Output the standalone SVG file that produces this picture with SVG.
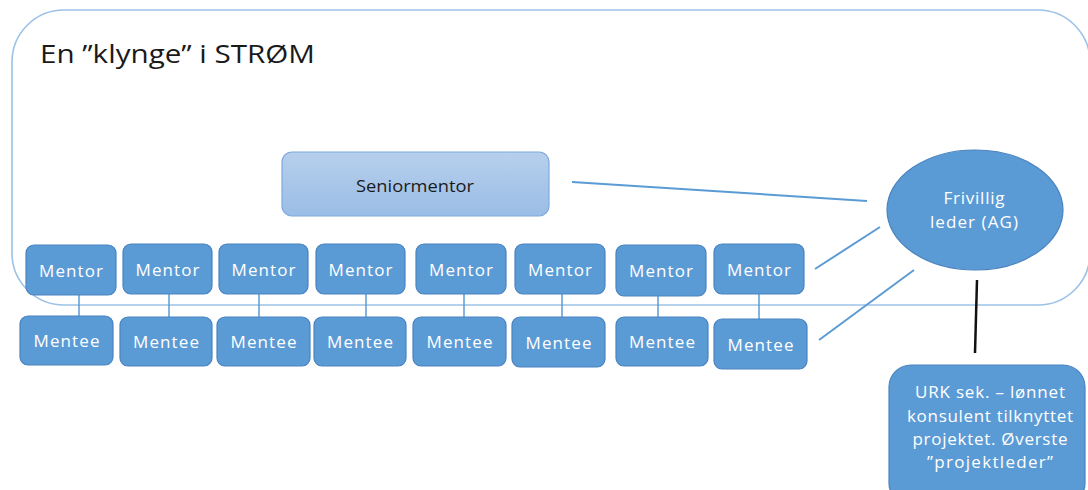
<svg xmlns="http://www.w3.org/2000/svg" width="1088" height="490" viewBox="0 0 1088 490">
<defs>
<linearGradient id="sg" x1="0" y1="0" x2="0" y2="1">
<stop offset="0" stop-color="#b7cfec"/>
<stop offset="1" stop-color="#9abde6"/>
</linearGradient>
</defs>
<style>
text{font-family:"Open Sans","Liberation Sans",sans-serif;}
.box{fill:#5b9bd5;stroke:#4a83bf;stroke-width:1.2;}
.wt{fill:#ffffff;font-size:17px;text-anchor:middle;}
.ln{stroke:#5b9bd5;stroke-width:2;fill:none;}
.vl{stroke:#5b9bd5;stroke-width:1.5;fill:none;}
</style>
<rect width="1088" height="490" fill="#ffffff"/>
<g id="cluster">
<rect x="12" y="10" width="1078" height="295" rx="52" ry="52" fill="none" stroke="#9cc2e8" stroke-width="1.6"/>
<text x="40" y="63" font-size="26" fill="#1a1a1a" textLength="275" lengthAdjust="spacingAndGlyphs">En ”klynge” i STRØM</text>
</g>
<g id="connectors">
<line class="vl" x1="79" y1="295" x2="79" y2="316"/>
<line class="vl" x1="169" y1="294" x2="169" y2="317"/>
<line class="vl" x1="259" y1="294" x2="259" y2="317"/>
<line class="vl" x1="366" y1="294" x2="366" y2="317"/>
<line class="vl" x1="464" y1="294" x2="464" y2="317"/>
<line class="vl" x1="562" y1="294" x2="562" y2="317"/>
<line class="vl" x1="658" y1="296" x2="658" y2="317"/>
<line class="vl" x1="759" y1="294" x2="759" y2="319"/>
<line class="ln" x1="572" y1="182" x2="867" y2="201"/>
<line class="ln" x1="815" y1="269" x2="880" y2="227"/>
<line class="ln" x1="819" y1="340" x2="914" y2="270"/>
<line x1="977" y1="280" x2="975" y2="353" stroke="#111111" stroke-width="2.5"/>
</g>
<g id="seniormentor">
<rect x="282" y="152" width="267" height="64" rx="10" fill="url(#sg)" stroke="#7ea9dc" stroke-width="1.2"/>
<text x="415" y="192" font-size="16" fill="#1a1a1a" text-anchor="middle" textLength="118" lengthAdjust="spacingAndGlyphs">Seniormentor</text>
</g>
<g id="mentor1"><rect class="box" x="26" y="245" width="90" height="50" rx="8"/><text class="wt" x="71" y="277" textLength="64">Mentor</text></g>
<g id="mentor2"><rect class="box" x="123" y="244" width="89" height="50" rx="8"/><text class="wt" x="167.5" y="276" textLength="64">Mentor</text></g>
<g id="mentor3"><rect class="box" x="219" y="244" width="89" height="50" rx="8"/><text class="wt" x="263.5" y="276" textLength="64">Mentor</text></g>
<g id="mentor4"><rect class="box" x="316" y="244" width="89" height="50" rx="8"/><text class="wt" x="360.5" y="276" textLength="64">Mentor</text></g>
<g id="mentor5"><rect class="box" x="416" y="244" width="90" height="50" rx="8"/><text class="wt" x="461" y="276" textLength="64">Mentor</text></g>
<g id="mentor6"><rect class="box" x="515" y="244" width="90" height="50" rx="8"/><text class="wt" x="560" y="276" textLength="64">Mentor</text></g>
<g id="mentor7"><rect class="box" x="616" y="245" width="90" height="51" rx="8"/><text class="wt" x="661" y="277" textLength="64">Mentor</text></g>
<g id="mentor8"><rect class="box" x="714" y="244" width="90" height="50" rx="8"/><text class="wt" x="759" y="276" textLength="64">Mentor</text></g>
<g id="mentee1"><rect class="box" x="20" y="316" width="93" height="49" rx="8"/><text class="wt" x="66.5" y="347" textLength="66">Mentee</text></g>
<g id="mentee2"><rect class="box" x="120" y="317" width="92" height="49" rx="8"/><text class="wt" x="166" y="348" textLength="66">Mentee</text></g>
<g id="mentee3"><rect class="box" x="217" y="317" width="93" height="49" rx="8"/><text class="wt" x="263.5" y="348" textLength="66">Mentee</text></g>
<g id="mentee4"><rect class="box" x="314" y="317" width="92" height="49" rx="8"/><text class="wt" x="360" y="348" textLength="66">Mentee</text></g>
<g id="mentee5"><rect class="box" x="413" y="317" width="93" height="49" rx="8"/><text class="wt" x="459.5" y="348" textLength="66">Mentee</text></g>
<g id="mentee6"><rect class="box" x="512" y="317" width="93" height="50" rx="8"/><text class="wt" x="558.5" y="349" textLength="66">Mentee</text></g>
<g id="mentee7"><rect class="box" x="616" y="317" width="92" height="49" rx="8"/><text class="wt" x="662" y="348" textLength="66">Mentee</text></g>
<g id="mentee8"><rect class="box" x="714" y="319" width="93" height="50" rx="8"/><text class="wt" x="760.5" y="351" textLength="66">Mentee</text></g>
<g id="frivillig">
<ellipse class="box" cx="975" cy="210" rx="88" ry="60"/>
<text class="wt" x="974" y="204" textLength="61">Frivillig</text>
<text class="wt" x="974" y="228" textLength="88">leder (AG)</text>
</g>
<g id="urk">
<rect class="box" x="889" y="365" width="196" height="140" rx="22"/>
<text class="wt" x="990" y="398" textLength="150">URK sek. – lønnet</text>
<text class="wt" x="990" y="422" textLength="166">konsulent tilknyttet</text>
<text class="wt" x="990" y="445" textLength="155">projektet. Øverste</text>
<text class="wt" x="990" y="468" textLength="126">”projektleder”</text>
</g>
</svg>
